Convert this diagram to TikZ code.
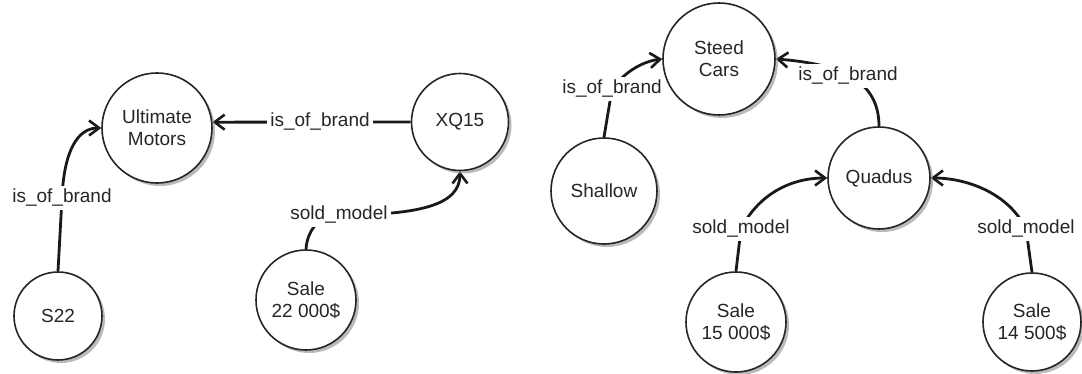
\documentclass[tikz,border=0pt]{standalone}
\usepackage{fontspec}
\setmainfont{Liberation Sans}
\usetikzlibrary{arrows.meta,shadows,backgrounds}
\begin{document}
\begin{tikzpicture}[x=0.5pt,y=-0.5pt,
  every node/.style={font=\fontsize{9.5}{11}\selectfont, text=black!85},
  entity/.style={circle, draw=black!85, line width=0.8pt, fill=white,
    inner sep=0pt, align=center,
    drop shadow={shadow xshift=1.5pt, shadow yshift=-1.5pt, fill=black!45, opacity=0.6}},
  rel/.style={fill=white, inner sep=1.5pt},
  link/.style={line width=1.4pt, draw=black!90},
  arr/.style={link, -{Straight Barb[length=5pt,width=7.5pt,line width=1.3pt]}}
]
\useasboundingbox (0,0) rectangle (1082,374);

% entities
\node[entity, minimum size=55pt]   (um)    at (157,128)  {Ultimate\\Motors};
\node[entity, minimum size=48.5pt] (xq)    at (460,122)  {XQ15};
\node[entity, minimum size=44pt]   (s22)   at (58,316)   {S22};
\node[entity, minimum size=50pt]   (sa)    at (306,300)  {Sale\\22 000\$};
\node[entity, minimum size=56pt]   (steed) at (719,59)   {Steed\\Cars};
\node[entity, minimum size=53pt]   (sh)    at (604,191)  {Shallow};
\node[entity, minimum size=51pt]   (qd)    at (879,178)  {Quadus};
\node[entity, minimum size=50pt]   (sb)    at (736,322)  {Sale\\15 000\$};
\node[entity, minimum size=49pt]   (sc)    at (1032,322) {Sale\\14 500\$};

% relation labels
\node[rel] (r1) at (62,198)   {is\_of\_brand};
\node[rel] (r2) at (320,122)  {is\_of\_brand};
\node[rel] (r3) at (339,215)  {sold\_model};
\node[rel] (r4) at (612,89)   {is\_of\_brand};
\node[rel] (r5) at (848,76)   {is\_of\_brand};
\node[rel] (r6) at (741,229)  {sold\_model};
\node[rel] (r7) at (1026,229) {sold\_model};

% relations, drawn behind their labels
\begin{scope}[on background layer]
  \draw[arr] (s22.north) -- (r1.center)
    .. controls (64,150) and (78,128) .. (um.west);
  \draw[arr] (xq.west) -- (um.6);
  \draw[arr] (sa.north) .. controls (307,232) and (318,215) .. (r3.center)
    .. controls (420,215) and (460,205) .. (xq.south);
  \draw[arr] (sh.north) -- (r4.center)
    .. controls (626,70) and (645,61) .. (steed.west);
  \draw[arr] (qd.north) .. controls (879,80) and (840,64) .. (steed.east);
  \draw[arr] (sb.north) -- (r6.center)
    .. controls (758,195) and (790,178) .. (qd.west);
  \draw[arr] (sc.north) -- (r7.center)
    .. controls (1008,192) and (965,178) .. (qd.east);
\end{scope}
\end{tikzpicture}
\end{document}
